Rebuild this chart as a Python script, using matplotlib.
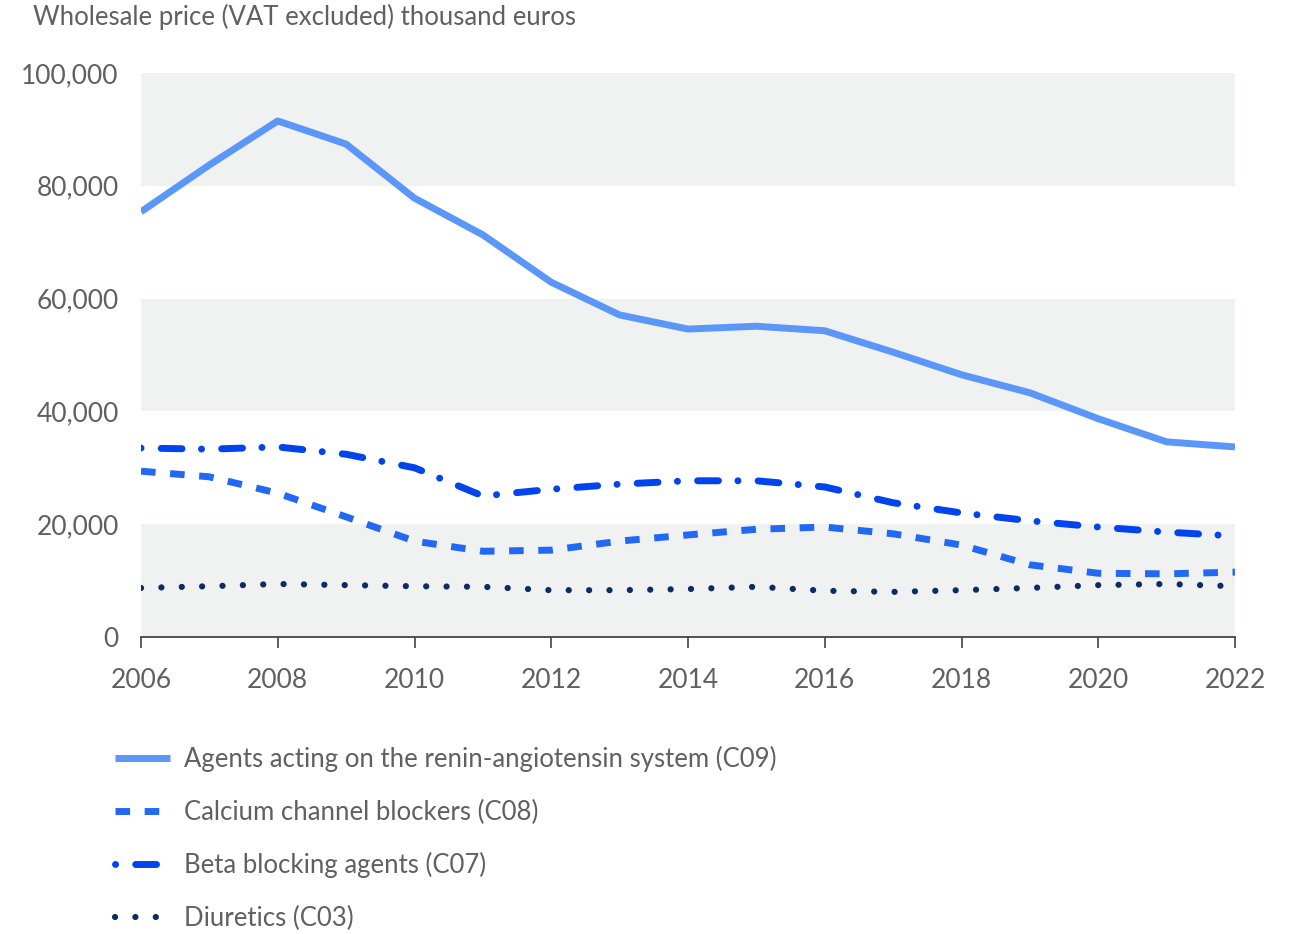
import matplotlib
matplotlib.use("Agg")
import matplotlib.pyplot as plt

plt.rcParams['font.family'] = ['Lato', 'DejaVu Sans']

years = list(range(2006, 2023))
c09 = [75.4, 83.7, 91.5, 87.4, 77.8, 71.3, 62.9, 57.1, 54.6, 55.1, 54.3, 50.5, 46.5, 43.3, 38.7, 34.6, 33.7]
c08 = [29.4, 28.4, 25.5, 21.3, 17.0, 15.2, 15.4, 17.0, 18.1, 19.1, 19.5, 18.3, 16.3, 12.8, 11.3, 11.2, 11.5]
c07 = [33.5, 33.3, 33.7, 32.4, 30.0, 25.0, 26.2, 27.1, 27.7, 27.7, 26.6, 23.8, 22.0, 20.6, 19.5, 18.6, 17.9]
c03 = [8.7, 9.0, 9.4, 9.2, 9.0, 8.9, 8.3, 8.3, 8.5, 8.9, 8.2, 8.0, 8.3, 8.7, 9.2, 9.4, 9.0]
c09 = [v * 1000 for v in c09]
c08 = [v * 1000 for v in c08]
c07 = [v * 1000 for v in c07]
c03 = [v * 1000 for v in c03]

labels = ["Agents acting on the renin-angiotensin system (C09)",
          "Calcium channel blockers (C08)",
          "Beta blocking agents (C07)",
          "Diuretics (C03)"]
title = "Wholesale price (VAT excluded) thousand euros"
yticks = [0, 20000, 40000, 60000, 80000, 100000]
xticks = list(range(2006, 2023, 2))

col09 = '#5b97f8'
col08 = '#2169f5'
col07 = '#0044ee'
col03 = '#0c2d63'
txt = '#606060'

fig = plt.figure(figsize=(13.01, 9.34), dpi=100)
ax = fig.add_axes([141/1301, 1-637/934, (1235-141)/1301, (637-73)/934])

for lo, hi in [(0, 20000), (40000, 60000), (80000, 100000)]:
    ax.axhspan(lo, hi, color='#f0f1f1', zorder=0, lw=0)

lw = 5
l1, = ax.plot(years, c09, color=col09, lw=lw, solid_capstyle='butt', solid_joinstyle='round', label=labels[0], zorder=3)
l2, = ax.plot(years, c08, color=col08, lw=lw, dashes=(2.1, 2.1), dash_capstyle='butt', label=labels[1], zorder=3)
l3, = ax.plot(years, c07, color=col07, lw=lw, dashes=(0.01, 2.9, 3.0, 2.8), dash_capstyle='round', label=labels[2], zorder=3)
l4, = ax.plot(years, c03, color=col03, lw=4.5, dashes=(0.01, 3.25), dash_capstyle='round', label=labels[3], zorder=3)

ax.set_xlim(2006, 2022)
ax.set_ylim(0, 100000)
ax.set_xticks(xticks)
ax.set_yticks(yticks)
ax.set_yticklabels([f"{v:,}" for v in yticks])
ax.tick_params(axis='y', length=0, pad=16, labelsize=19, labelcolor=txt)
ax.tick_params(axis='x', length=8, width=1.2, color='#444444', pad=14.5, labelsize=19, labelcolor=txt)
for s in ['top', 'right', 'left']:
    ax.spines[s].set_visible(False)
ax.spines['bottom'].set_color('#444444')
ax.spines['bottom'].set_linewidth(1.3)
ax.spines['bottom'].set_zorder(4)

fig.text(33/1301, 1-17/934, title, ha='left', va='center', fontsize=18.5, color=txt)

leg = fig.legend(handles=[l1, l2, l3, l4], loc='upper left', bbox_to_anchor=(115/1301, 1-746/934),
                 frameon=False, fontsize=18.5, handlelength=2.15, handletextpad=0.55,
                 labelspacing=1.07, borderaxespad=0, borderpad=0)
for t in leg.get_texts():
    t.set_color(txt)

fig.savefig('out.png', dpi=100)
